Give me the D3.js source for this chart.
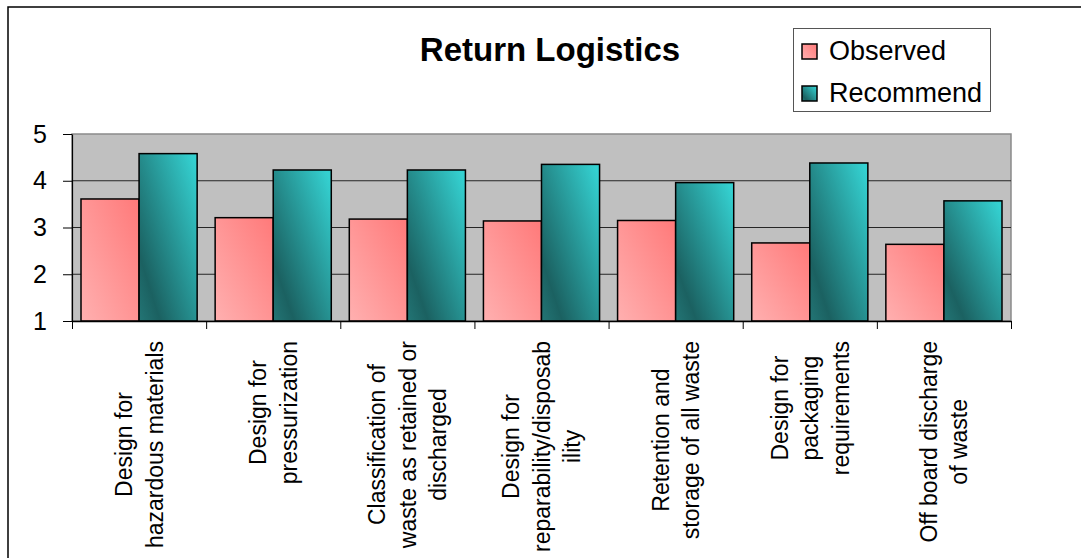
<!DOCTYPE html>
<html>
<head>
<meta charset="utf-8">
<script src="https://cdn.jsdelivr.net/npm/d3@7"></script>
<style>
  body { margin: 0; background: #fff; }
  svg { display: block; font-family: 'Liberation Sans', Arial, sans-serif; }
</style>
</head>
<body>
<div id="chart"></div>
<script>
// data
const categories = ['c1', 'c2', 'c3', 'c4', 'c5', 'c6', 'c7']
const catLines = [
  ['Design for', 'hazardous materials'],
  ['Design for', 'pressurization'],
  ['Classification of', 'waste as retained or', 'discharged'],
  ['Design for', 'reparability/disposab', 'ility'],
  ['Retention and', 'storage of all waste'],
  ['Design for', 'packaging', 'requirements'],
  ['Off board discharge', 'of waste']
]
const seriesNames = ['Observed', 'Recommend']
const observed = [3.61, 3.21, 3.18, 3.14, 3.15, 2.67, 2.64]
const recommend = [4.58, 4.23, 4.23, 4.35, 3.96, 4.38, 3.57]
const yTicks = [1, 2, 3, 4, 5]
const title = 'Return Logistics'

const width = 1081
const height = 558
const plot = {left: 72, top: 134, right: 1011, bottom: 321}

const svg = d3.select('#chart').append('svg')
  .attr('width', width)
  .attr('height', height)

// gradients like the excel fills
const defs = svg.append('defs')
const gradStops = {
  Observed: [['0', '#ffb0b0'], ['1', '#ff7c7c']],
  Recommend: [['0', '#237575'], ['0.2', '#1b6161'], ['1', '#34d0d0']]
}
seriesNames.forEach(s => {
  let g = defs.append('linearGradient')
    .attr('id', 'grad' + s)
    .attr('x1', 0).attr('y1', 1)
    .attr('x2', 1).attr('y2', 0.1)
  gradStops[s].forEach(st => {
    g.append('stop').attr('offset', st[0]).attr('stop-color', st[1])
  })
})

let yScale = d3.scaleLinear()
  .domain([1, 5])
  .range([plot.bottom, plot.top])
let xScale = d3.scaleBand()
  .domain(categories)
  .range([plot.left, plot.right])
  .padding(0)
let xSub = d3.scaleBand()
  .domain(seriesNames)
  .range([0, xScale.bandwidth()])
  .paddingInner(0)
  .paddingOuter(0.155)
let edgeScale = d3.scaleLinear()
  .domain([0, categories.length])
  .range([plot.left, plot.right])

// outer frame
svg.append('path')
  .attr('d', d3.line()([[8, height], [8, 7], [width, 7]]))
  .style('fill', 'none')
  .style('stroke', '#000')
  .style('stroke-width', 1.5)

// plot area
svg.append('rect')
  .attr('x', plot.left)
  .attr('y', plot.top)
  .attr('width', plot.right - plot.left)
  .attr('height', plot.bottom - plot.top)
  .style('fill', '#c0c0c0')
  .style('stroke', '#8a8a8a')
  .style('stroke-width', 1.5)

svg.append('g')
  .selectAll('line')
  .data(yTicks.filter(v => v > 1 && v < 5))
  .enter()
  .append('line')
  .attr('x1', plot.left)
  .attr('x2', plot.right)
  .attr('y1', d => yScale(d))
  .attr('y2', d => yScale(d))
  .style('stroke', '#262626')
  .style('stroke-width', 1)

// bars
let seriesData = {Observed: observed, Recommend: recommend}
let groups = svg.append('g')
  .selectAll('.group')
  .data(categories)
  .enter()
  .append('g')
  .classed('group', true)
  .attr('transform', d => `translate(${xScale(d)},0)`)
groups.selectAll('rect')
  .data((d, i) => seriesNames.map(s => ({s: s, v: seriesData[s][i]})))
  .enter()
  .append('rect')
  .attr('x', d => xSub(d.s))
  .attr('width', xSub.bandwidth())
  .attr('y', d => yScale(d.v))
  .attr('height', d => yScale(1) - yScale(d.v))
  .style('fill', d => `url(#grad${d.s})`)
  .style('stroke', '#000')
  .style('stroke-width', 1.5)

// axes
let yAxis = svg.append('g')
  .attr('transform', `translate(${plot.left},0)`)
  .call(d3.axisLeft(yScale).tickValues(yTicks).tickSize(9).tickSizeOuter(0).tickPadding(16).tickFormat(d3.format('d')))
yAxis.attr('font-size', 25).attr('font-family', "'Liberation Sans', Arial, sans-serif")
yAxis.select('.domain').style('stroke', '#000').style('stroke-width', 1.2)
yAxis.selectAll('.tick line').style('stroke', '#000')
yAxis.selectAll('.tick text')
  .style('font-size', '25px')
  .style('fill', '#000')

let xAxis = svg.append('g')
  .attr('transform', `translate(0,${plot.bottom})`)
  .call(d3.axisBottom(edgeScale).tickValues(d3.range(categories.length + 1)).tickSize(8).tickSizeOuter(0).tickFormat(''))
xAxis.select('.domain').style('stroke', '#000').style('stroke-width', 1.5)
xAxis.selectAll('.tick line').style('stroke', '#000')

// rotated category labels
const lineGap = 30.5
const labelFont = 23
const labelTop = 341
catLines.forEach((lines, i) => {
  let cx = xScale(categories[i]) + xScale.bandwidth() / 2
  let texts = lines.map((t, j) => {
    let off = (j - (lines.length - 1) / 2) * lineGap
    return svg.append('text')
      .text(t)
      .attr('text-anchor', 'middle')
      .style('font-size', labelFont + 'px')
      .style('fill', '#000')
      .datum(off)
  })
  let maxLen = d3.max(texts, t => t.node().getComputedTextLength())
  texts.forEach(t => {
    let bx = cx + t.datum() + labelFont * 0.36
    t.attr('transform', `translate(${bx},${labelTop + maxLen / 2}) rotate(-90)`)
  })
})

// title
svg.append('text')
  .attr('x', 550)
  .attr('y', 61)
  .attr('text-anchor', 'middle')
  .style('font-size', '33px')
  .style('font-weight', 'bold')
  .style('fill', '#000')
  .text(title)

// legend
let legend = svg.append('g')
legend.append('rect')
  .attr('x', 793.5)
  .attr('y', 28.5)
  .attr('width', 197)
  .attr('height', 83)
  .style('fill', '#fff')
  .style('stroke', '#555')
  .style('stroke-width', 1)
let legendY = d3.scalePoint()
  .domain(seriesNames)
  .range([60, 102])
seriesNames.forEach(s => {
  legend.append('rect')
    .attr('x', 802)
    .attr('y', legendY(s) - 16)
    .attr('width', 15)
    .attr('height', 15)
    .style('fill', `url(#grad${s})`)
    .style('stroke', '#000')
    .style('stroke-width', 1.5)
  legend.append('text')
    .attr('x', 829)
    .attr('y', legendY(s))
    .style('font-size', '27px')
    .style('fill', '#000')
    .text(s)
})
</script>
</body>
</html>
